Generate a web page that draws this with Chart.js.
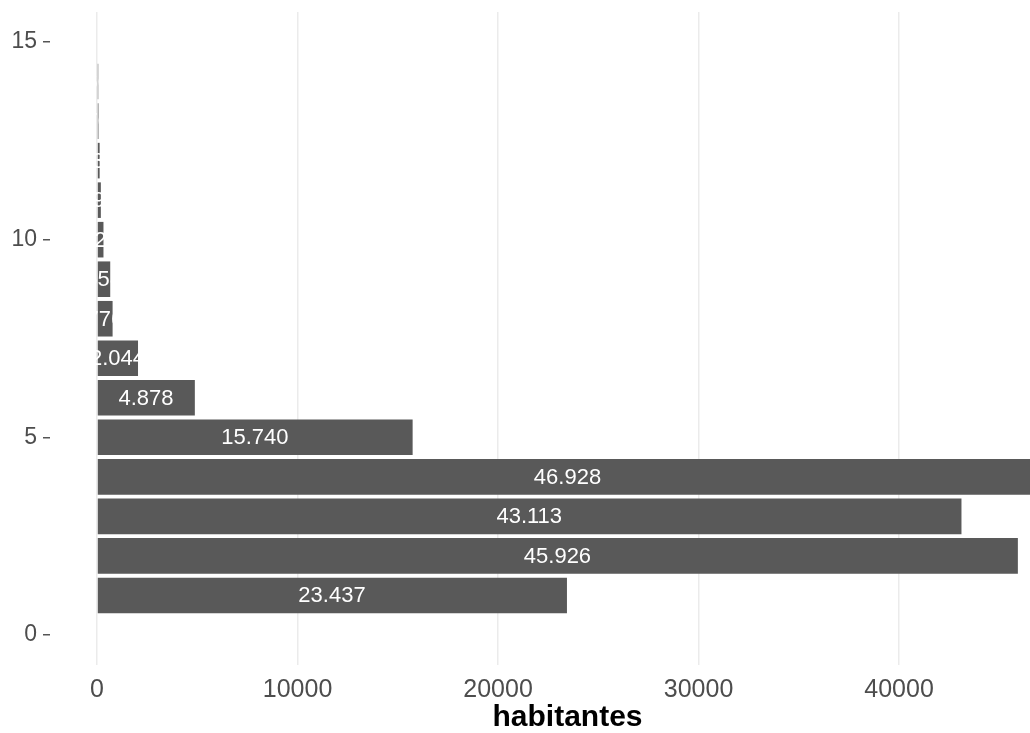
<!DOCTYPE html>
<html>
<head>
<meta charset="utf-8">
<script src="https://cdn.jsdelivr.net/npm/chart.js@4"></script>
<style>
  html, body { margin: 0; padding: 0; background: #ffffff; overflow: hidden; }
  /* the plot panel runs a bit past the right edge of the picture */
  #wrap { width: 1085px; height: 733px; }
</style>
</head>
<body>
<div id="wrap"><canvas id="habChart"></canvas></div>
<script>
// Chart data
const positions = [1, 2, 3, 4, 5, 6, 7, 8, 9, 10, 11, 12, 13, 14];
const habitantes = [23437, 45926, 43113, 46928, 15740, 4878, 2044, 776, 658, 321, 190, 130, 70, 60];
const xTicks = [0, 10000, 20000, 30000, 40000];
const yTicks = [0, 5, 10, 15];

const tickFont = '"Liberation Sans", Arial, sans-serif';

// Format numbers with "." as thousands separator
function formatNum(v) {
    return String(v).replace(/\B(?=(\d{3})+(?!\d))/g, '.');
}

// Draw white value labels in the middle of each bar
const barLabels = {
    id: 'barLabels',
    afterDatasetsDraw(chart) {
        const ctx = chart.ctx;
        const meta = chart.getDatasetMeta(0);
        const area = chart.chartArea;
        ctx.save();
        ctx.beginPath();
        ctx.rect(area.left, area.top, area.right - area.left, area.bottom - area.top);
        ctx.clip();
        ctx.fillStyle = '#ffffff';
        ctx.font = '22px ' + tickFont;
        ctx.textAlign = 'center';
        ctx.textBaseline = 'middle';
        meta.data.forEach((bar, i) => {
            const xMid = chart.scales.x.getPixelForValue(habitantes[i] / 2);
            ctx.fillText(formatNum(habitantes[i]), xMid, bar.y + 1);
        });
        ctx.restore();
    }
};

new Chart(document.getElementById('habChart'), {
    type: 'bar',
    data: {
        datasets: [{
            data: positions.map((p, i) => ({ x: habitantes[i], y: p })),
            backgroundColor: '#595959',
            borderWidth: 0,
            barPercentage: 0.9,
            categoryPercentage: 1
        }]
    },
    options: {
        indexAxis: 'y',
        responsive: true,
        maintainAspectRatio: false,
        animation: false,
        layout: { padding: { top: 12, right: 0, left: 0, bottom: 0 } },
        plugins: {
            legend: { display: false },
            tooltip: { enabled: false }
        },
        scales: {
            x: {
                type: 'linear',
                min: -2346,
                max: 49274,
                afterBuildTicks: (scale) => {
                    scale.ticks = xTicks.map(v => ({ value: v }));
                },
                afterFit: (scale) => {
                    scale.height = 68;
                    scale.paddingLeft = 0;
                    scale.paddingRight = 0;
                },
                grid: {
                    color: '#ebebeb',
                    lineWidth: 1.5,
                    drawTicks: false
                },
                border: { display: false },
                ticks: {
                    color: '#4d4d4d',
                    padding: 10,
                    callback: (v) => String(v),
                    font: { family: tickFont, size: 25 }
                },
                title: {
                    display: true,
                    text: 'habitantes',
                    color: '#000000',
                    padding: { top: 0, bottom: 0 },
                    font: { family: tickFont, size: 30, weight: 'bold', lineHeight: 1 }
                }
            },
            y: {
                type: 'linear',
                offset: false,
                min: -0.76,
                max: 15.76,
                afterBuildTicks: (scale) => {
                    scale.ticks = yTicks.map(v => ({ value: v }));
                },
                afterFit: (scale) => {
                    scale.width = 50;
                    scale.paddingTop = 0;
                    scale.paddingBottom = 0;
                },
                grid: {
                    offset: false,
                    drawOnChartArea: false,
                    drawTicks: true,
                    tickLength: 7,
                    color: '#555555',
                    lineWidth: 1.5
                },
                border: { display: false },
                ticks: {
                    color: '#4d4d4d',
                    padding: 6,
                    callback: (v) => String(v),
                    font: { family: tickFont, size: 23 }
                }
            }
        }
    },
    plugins: [barLabels]
});
</script>
</body>
</html>
